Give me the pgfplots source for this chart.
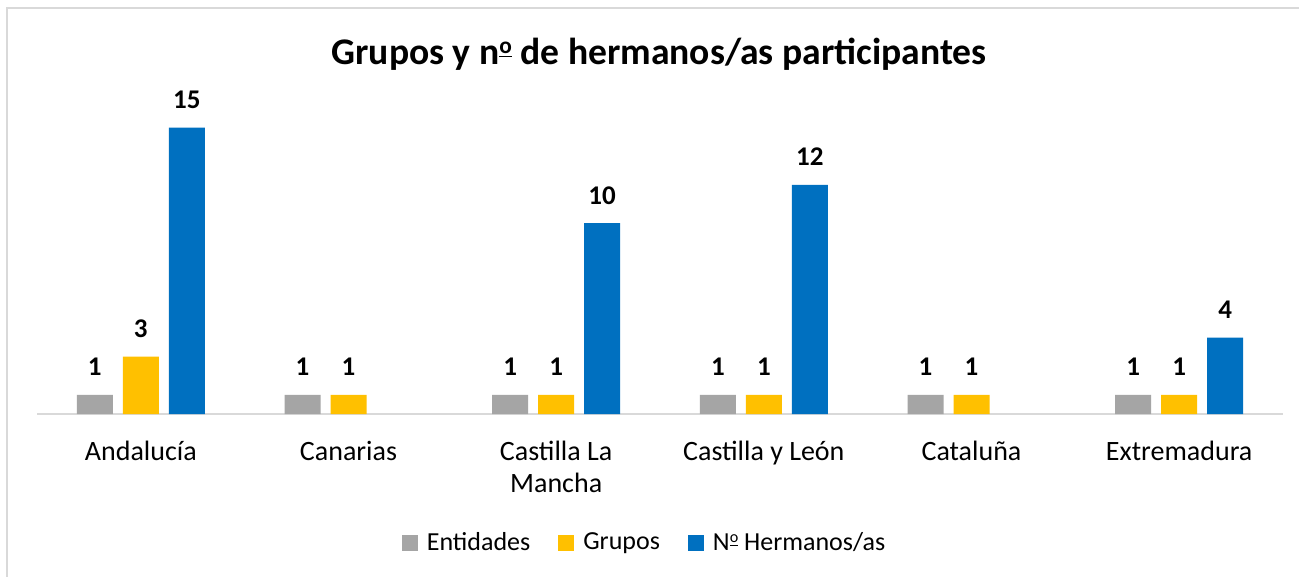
\documentclass[border=0pt]{standalone}
\usepackage{fontspec}
\setmainfont{Carlito}
\usepackage{pgfplots}
\pgfplotsset{compat=1.18}
\definecolor{cgray}{HTML}{A5A5A5}
\definecolor{cgold}{HTML}{FFC000}
\definecolor{cblue}{HTML}{0070C0}
\definecolor{cline}{HTML}{D9D9D9}
\newcommand\ordm{\raisebox{0.62ex}{\fontsize{0.62em}{1em}\selectfont\underline{o}}}
\begin{document}
\begin{tikzpicture}
\useasboundingbox (0,0) rectangle (649.5pt,-288.5pt);
\fill[white] (0,0) rectangle (649.5pt,-288.5pt);
\draw[cline, line width=1pt] (3.5pt,-288.5pt) -- (3.5pt,-4pt) -- (649.5pt,-4pt);
\node[font=\bfseries\fontsize{18.8}{22}\selectfont, anchor=base, inner sep=0pt] at (329.5pt,-32.5pt) {Grupos y n\ordm{} de hermanos/as participantes};
\begin{axis}[
  at={(18.5pt,-207pt)}, anchor=south west,
  scale only axis, width=623pt, height=152.8pt,
  xmin=-0.5, xmax=5.5, ymin=0, ymax=16,
  axis x line=bottom, axis y line=none,
  x axis line style={-, draw=cline, line width=0.75pt},
  ytick=\empty, xtick={0,1,2,3,4,5},
  xticklabels={Andaluc\'ia, Canarias, {Castilla La\\Mancha}, Castilla y Le\'on, Catalu\~na, Extremadura},
  major tick length=0pt,
  xticklabel style={font=\fontsize{14}{16}\selectfont, align=center, yshift=-10pt},
  /pgf/number format/assume math mode=true,
  ybar, bar width=18pt,
  nodes near coords,
  every node near coord/.append style={font=\bfseries\fontsize{13.5}{15}\selectfont, anchor=base, yshift=9.5pt, text=black},
  legend style={at={(0.488,-0.422)}, anchor=center, draw=none, fill=none, legend columns=3,
    font=\fontsize{13}{15}\selectfont,
    nodes={inner sep=1.5pt},
    /tikz/every odd column/.append style={column sep=3pt},
    /tikz/every even column/.append style={column sep=12.5pt}},
  legend image code/.code={\fill[#1] (0pt,-4pt) rectangle (8pt,4pt);},
  clip=false
]
\addplot[fill=cgray, draw=none, bar shift=-23pt] coordinates {(0,1) (1,1) (2,1) (3,1) (4,1) (5,1)};
\addplot[fill=cgold, draw=none, bar shift=0pt] coordinates {(0,3) (1,1) (2,1) (3,1) (4,1) (5,1)};
\addplot[fill=cblue, draw=none, bar shift=23pt] coordinates {(0,15) (2,10) (3,12) (5,4)};
\legend{Entidades, Grupos, N\ordm{} Hermanos/as}
\end{axis}
\end{tikzpicture}
\end{document}
